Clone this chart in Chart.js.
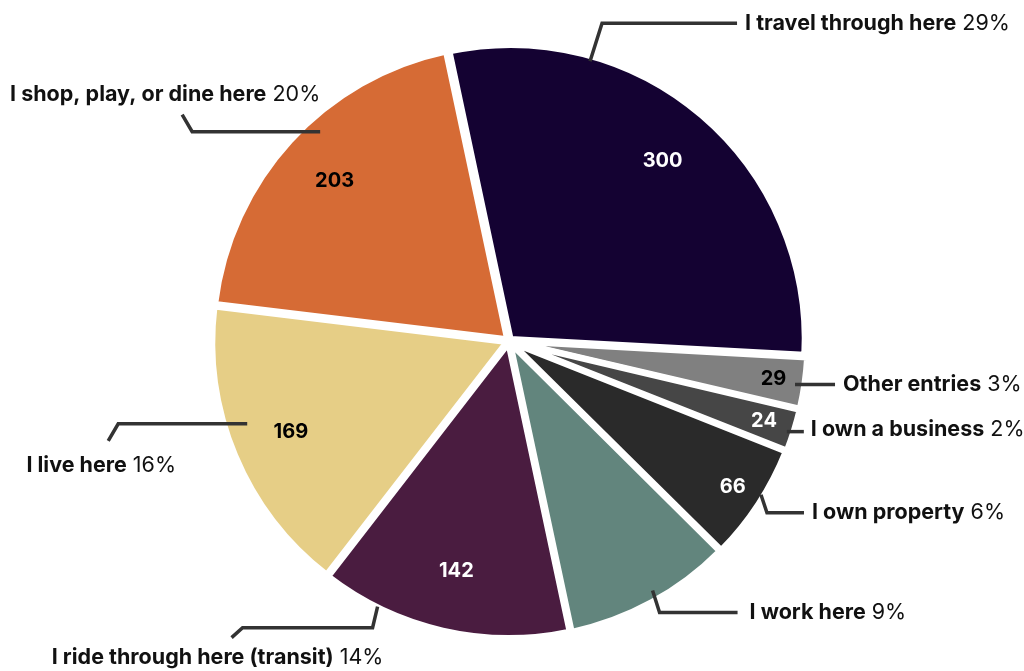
<!DOCTYPE html>
<html>
<head>
<meta charset="utf-8">
<script src="https://cdn.jsdelivr.net/npm/chart.js@4.4.0/dist/chart.umd.min.js"></script>
<style>
  html, body { margin: 0; padding: 0; background: #fff; }
  #wrap { width: 1024px; height: 671px; }
</style>
</head>
<body>
<div id="wrap"><canvas id="pie"></canvas></div>
<script>
// slices, clockwise from the top
const categories = ['I travel through here', 'Other entries', 'I own a business', 'I own property',
  'I work here', 'I ride through here (transit)', 'I live here', 'I shop, play, or dine here'];
const counts = [300, 29, 24, 66, 95, 142, 169, 203];
const sliceColors = ['#140232', '#808080', '#464646', '#2a2a2a', '#62857d', '#4a1c40', '#e6ce86', '#d66b35'];
// colour of the count printed inside each slice (null = not shown)
const countColors = ['#fff', '#000', '#fff', '#fff', null, '#fff', '#000', '#000'];

// leader lines: where they leave the slice (fraction along the arc, radius ratio),
// then relative segments, then text alignment/offset
const callouts = [
  { at: 0.26, r: 0.96, path: [[12, -38], [135, 0]], align: 'left', text: [8, 0] },
  { at: 0.55, r: 0.95, path: [[40, 0]], align: 'left', text: [8, 0] },
  { at: 0.58, r: 0.96, path: [[17, 0]], align: 'left', text: [7, -2] },
  { at: 0.42, r: 0.97, path: [[6, 18], [37, 0]], align: 'left', text: [8, 0] },
  { at: 0.46, r: 0.945, path: [[7, 22], [78, 0]], align: 'left', text: [12, 0] },
  { at: 0.78, r: 0.975, path: [[-5, 21], [-130, 0], [-11, 10]], align: 'center', text: [-14, 20] },
  { at: 0.59, r: 0.90, path: [[-129, 0], [-10, 17]], align: 'center', text: [-7, 25] },
  { at: 0.58, r: 0.925, path: [[-128, 0], [-10, -17]], align: 'center', text: [-17, -20] }
];

const total = counts.reduce((a, b) => a + b, 0);
const FONT = 'Inter, "Open Sans", sans-serif';
const LABEL_SIZE = '21.5px ';

const labelPlugin = {
  id: 'pieLabels',
  afterDatasetsDraw(chart) {
    const ctx = chart.ctx;
    const meta = chart.getDatasetMeta(0);
    const off = chart.data.datasets[0].offset;
    meta.data.forEach((arc, i) => {
      const p = arc.getProps(['x', 'y', 'startAngle', 'endAngle', 'outerRadius'], true);
      const mid = (p.startAngle + p.endAngle) / 2;
      const cx = p.x + Math.cos(mid) * off;
      const cy = p.y + Math.sin(mid) * off;
      const span = p.endAngle - p.startAngle;

      // count inside the slice
      if (countColors[i]) {
        const rr = p.outerRadius * (span < 0.5 ? 0.875 : 0.77);
        ctx.save();
        ctx.font = '700 20px ' + FONT;
        ctx.fillStyle = countColors[i];
        ctx.textAlign = 'center';
        ctx.textBaseline = 'middle';
        ctx.fillText(counts[i], cx + Math.cos(mid) * rr, cy + Math.sin(mid) * rr);
        ctx.restore();
      }

      // leader line + category label
      const c = callouts[i];
      const a = p.startAngle + span * c.at;
      let x = cx + Math.cos(a) * p.outerRadius * c.r;
      let y = cy + Math.sin(a) * p.outerRadius * c.r;
      ctx.save();
      ctx.strokeStyle = '#333';
      ctx.lineWidth = 3.5;
      ctx.beginPath();
      ctx.moveTo(x, y);
      c.path.forEach(s => { x += s[0]; y += s[1]; ctx.lineTo(x, y); });
      ctx.stroke();

      const name = categories[i];
      const pct = ' ' + Math.round(counts[i] / total * 100) + '%';
      ctx.font = '700 ' + LABEL_SIZE + FONT;
      const w1 = ctx.measureText(name).width;
      ctx.font = '400 ' + LABEL_SIZE + FONT;
      const w2 = ctx.measureText(pct).width;
      let tx = x + c.text[0];
      const ty = y + c.text[1];
      if (c.align === 'center') tx -= (w1 + w2) / 2;
      ctx.fillStyle = '#111';
      ctx.textBaseline = 'middle';
      ctx.textAlign = 'left';
      ctx.font = '700 ' + LABEL_SIZE + FONT;
      ctx.fillText(name, tx, ty);
      ctx.font = '400 ' + LABEL_SIZE + FONT;
      ctx.fillText(pct, tx + w1, ty);
      ctx.restore();
    });
  }
};

new Chart(document.getElementById('pie'), {
  type: 'pie',
  data: {
    labels: categories,
    datasets: [{
      data: counts,
      backgroundColor: sliceColors,
      borderColor: '#fff',
      borderWidth: 6,
      offset: 10,
      hoverOffset: 0
    }]
  },
  options: {
    responsive: true,
    maintainAspectRatio: false,
    animation: false,
    rotation: -12,
    radius: 294,
    layout: { padding: { top: 11, bottom: 0, left: 0, right: 6 } },
    plugins: {
      legend: { display: false },
      tooltip: { enabled: false }
    }
  },
  plugins: [labelPlugin]
});
</script>
</body>
</html>
